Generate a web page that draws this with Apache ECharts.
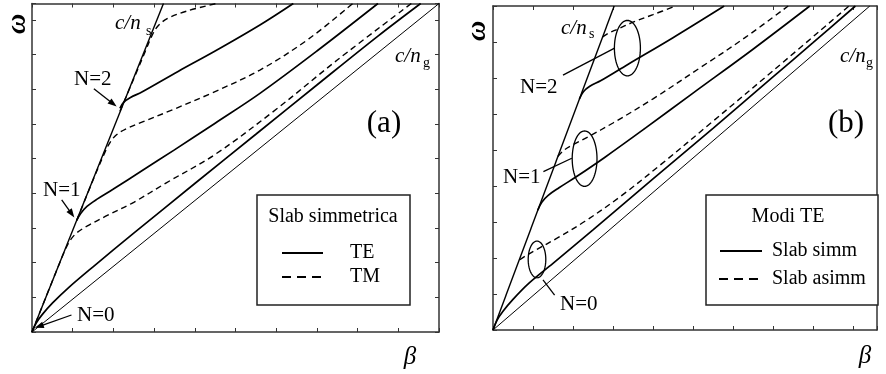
<!DOCTYPE html>
<html><head><meta charset="utf-8">
<script src="https://cdn.jsdelivr.net/npm/echarts@6/dist/echarts.min.js"></script>
<style>html,body{margin:0;padding:0;background:#fff}#c{width:886px;height:374px}</style>
</head><body><div id="c"></div>
<script>
// ---------- Panel (a): symmetric slab, TE (solid) vs TM (dashed) ----------
const aLightS = [[0,0],[3.23,9.47]];
const aLightG = [[0,0],[10,9.47]];
const aTE0 = [[0,0],[0.1,0.25],[0.25,0.5],[0.5,0.83],[0.9,1.28],[1.5,1.88],[2.5,2.85],[4,4.28],[5.5,5.7],[7,7.12],[8.5,8.53],[9.55,9.47]];
const aTE1 = [[1.1,3.22],[1.2,3.42],[1.35,3.62],[1.6,3.83],[2,4.12],[2.7,4.65],[3.5,5.25],[4.5,6.02],[5.6,6.88],[7,8.1],[8.5,9.47]];
const aTE2 = [[2.16,6.45],[2.25,6.62],[2.42,6.76],[2.7,6.92],[3.6,7.52],[4.5,8.1],[5.6,8.85],[6.42,9.47]];
const aTM0 = [[0,0],[0.6,1.76],[0.82,2.38],[0.95,2.66],[1.1,2.86],[1.35,3.05],[1.8,3.33],[2.5,3.74],[3.3,4.3],[4.5,5.12],[6,6.42],[7.5,7.84],[9.32,9.47]];
const aTM1 = [[1.1,3.22],[1.5,4.38],[1.78,5.15],[1.92,5.47],[2.07,5.68],[2.3,5.85],[2.7,6.05],[3.4,6.38],[4.4,6.88],[5.6,7.55],[6.8,8.45],[7.88,9.47]];
const aTM2 = [[2.16,6.36],[2.5,7.3],[2.78,8.08],[2.95,8.55],[3.1,8.83],[3.35,9.05],[3.8,9.25],[4.53,9.47]];
// arrows: [x1,y1,x2,y2,head]
const aArrows = [[1.52,7.01,2.08,6.5,1],[0.73,3.81,1.04,3.3,1],[0.97,0.49,0.07,0.12,1]];

// ---------- Panel (b): TE modes, symmetric (solid) vs asymmetric (dashed) ----------
const bLightS = [[0,0],[3.03,9]];
const bLightG = [[0,0],[9.42,9]];
const bSym0 = [[0,0],[0.1,0.27],[0.25,0.52],[0.5,0.85],[0.9,1.3],[1.5,1.85],[2.5,2.78],[4,4.2],[5.5,5.6],[7,7.03],[8,7.98],[9.06,9]];
const bSym1 = [[1.12,3.33],[1.22,3.55],[1.38,3.74],[1.65,3.95],[2.1,4.27],[2.8,4.8],[3.8,5.6],[5,6.58],[6.5,7.8],[7.92,9]];
const bSym2 = [[2.16,6.42],[2.26,6.62],[2.42,6.77],[2.7,6.93],[3.36,7.37],[4.5,8.12],[5.78,9]];
const bAsym0 = [[0.67,1.95],[0.8,2.05],[1.1,2.24],[1.6,2.55],[2.3,3.02],[3.2,3.72],[4.2,4.6],[5.5,5.8],[7,7.2],[8.9,9]];
const bAsym1 = [[1.62,4.82],[1.78,5.0],[2.0,5.15],[2.4,5.38],[3.0,5.75],[4,6.42],[5.2,7.3],[6.3,8.12],[7.38,9]];
const bAsym2 = [[2.74,8.14],[2.88,8.24],[3.1,8.35],[3.5,8.55],[4.0,8.76],[4.57,9]];
// ellipses: [cx,cy,rx,ry]
const bEllipses = [[3.36,7.83,0.325,0.77],[2.29,4.76,0.31,0.77],[1.10,1.96,0.22,0.51]];
// leader lines
const bLeaders = [[1.75,7.08,3.04,7.83,0],[1.26,4.40,1.97,4.77,0],[1.25,1.39,1.54,0.97,0]];

const SERIF = '"Liberation Serif","DejaVu Serif",serif';
const chart = echarts.init(document.getElementById('c'), null, {renderer:'canvas'});

function ax(gi, max, pos, ticks) {
  return {
    type:'value', gridIndex:gi, min:0, max:max, interval:1, position:pos,
    axisLabel:{show:false}, splitLine:{show:false},
    axisLine:{show:true, onZero:false, lineStyle:{color:'#333', width:1.5}},
    axisTick:{show:ticks, inside:true, length:4, lineStyle:{color:'#333', width:1}}
  };
}
function ln(data, xi, width, dashed, smooth) {
  return {
    type:'line', xAxisIndex:xi, yAxisIndex:xi, data:data, symbol:'none',
    smooth: smooth ? 0.35 : false, silent:true, z:3,
    lineStyle:{color:'#000', width:width, type: dashed ? [6,4] : 'solid'}
  };
}
function segRender(params, api) {
  const p1 = api.coord([api.value(0), api.value(1)]);
  const p2 = api.coord([api.value(2), api.value(3)]);
  const head = api.value(4);
  const ch = [];
  let ex = p2[0], ey = p2[1];
  if (head) {
    const dx = p2[0]-p1[0], dy = p2[1]-p1[1], L = Math.hypot(dx,dy), ux = dx/L, uy = dy/L;
    const hl = 9, hw = 3.3;
    const bx = p2[0]-ux*hl, by = p2[1]-uy*hl;
    ex = bx + ux*2; ey = by + uy*2;
    ch.push({type:'polygon', shape:{points:[[p2[0],p2[1]],[bx-uy*hw,by+ux*hw],[bx+uy*hw,by-ux*hw]]}, style:{fill:'#000'}});
  }
  ch.push({type:'line', shape:{x1:p1[0],y1:p1[1],x2:ex,y2:ey}, style:{stroke:'#000', lineWidth:1.3}});
  return {type:'group', children:ch};
}
function ellRender(params, api) {
  const c = api.coord([api.value(0), api.value(1)]);
  const s = api.size([api.value(2), api.value(3)]);
  const pts = [];
  for (let i = 0; i < 72; i++) { const t = i/72*Math.PI*2; pts.push([c[0]+s[0]*Math.cos(t), c[1]+s[1]*Math.sin(t)]); }
  return {type:'polygon', shape:{points:pts}, style:{fill:'none', stroke:'#000', lineWidth:1.3}};
}

function txt(x, y, text, size, opts) {
  opts = opts || {};
  return {type:'text', x:x, y:y, rotation:opts.rot || 0, z:10, silent:true,
    style:{text:text, fill:'#000', font:(opts.style||'')+' '+size+'px '+SERIF,
      textAlign:opts.align||'left', textVerticalAlign:'middle'}};
}
function legendBox(x, y, w, h, title, tcx, items) {
  const g = [{type:'rect', shape:{x:x, y:y, width:w, height:h}, z:9,
    style:{fill:'#fff', stroke:'#222', lineWidth:1.5}}];
  g.push(txt(tcx, y+22, title, 20, {align:'center'}));
  items.forEach(it => {
    g.push({type:'line', z:10, shape:{x1:it[0], y1:it[2], x2:it[1], y2:it[2]},
      style:{stroke:'#000', lineWidth:1.8, lineDash: it[4] ? [9,6] : null}});
    g.push(txt(it[3], it[2], it[5], 20));
  });
  return g;
}

const graphics = [].concat(
  // panel a texts
  txt(18, 24, 'ω', 28, {style:'italic bold', align:'center', rot:Math.PI/2}),
  txt(410, 357, 'β', 25, {style:'italic', align:'center'}),
  txt(115, 23, 'c/n', 21, {style:'italic'}),
  txt(146, 31, 's', 14),
  txt(395, 56, 'c/n', 21, {style:'italic'}),
  txt(423, 63, 'g', 14),
  txt(384, 124, '(a)', 31, {align:'center'}),
  txt(74, 79, 'N=2', 21),
  txt(43, 190, 'N=1', 21),
  txt(77, 315, 'N=0', 21),
  legendBox(257, 195, 153, 110, 'Slab simmetrica', 333,
    [[282,323,253,350,false,'TE'],[282,321,277,350,true,'TM']]),
  // panel b texts
  txt(478, 31, 'ω', 28, {style:'italic bold', align:'center', rot:Math.PI/2}),
  txt(865, 356, 'β', 25, {style:'italic', align:'center'}),
  txt(561, 28, 'c/n', 21, {style:'italic'}),
  txt(589, 34, 's', 14),
  txt(840, 56, 'c/n', 21, {style:'italic'}),
  txt(866, 63, 'g', 14),
  txt(846, 124, '(b)', 31, {align:'center'}),
  txt(520, 87, 'N=2', 21),
  txt(503, 177, 'N=1', 21),
  txt(560, 304, 'N=0', 21),
  legendBox(706, 195, 172, 110, 'Modi TE', 788,
    [[720,762,251,772,false,'Slab simm'],[719,758,279,772,true,'Slab asimm']])
);

chart.setOption({
  animation:false,
  backgroundColor:'#fff',
  grid:[
    {left:32, top:3.5, right:447, bottom:42},
    {left:493, top:6, right:9, bottom:44}
  ],
  xAxis:[ax(0,10,'bottom',true), ax(0,10,'top',true), ax(1,9.6,'bottom',true), ax(1,9.6,'top',true)],
  yAxis:[ax(0,9.47,'left',true), ax(0,9.47,'right',true), ax(1,9,'left',true), ax(1,9,'right',false)],
  series:[
    ln(aLightS,0,1.4,false,false), ln(aLightG,0,1,false,false),
    ln(aTE0,0,1.7,false,true), ln(aTE1,0,1.7,false,true), ln(aTE2,0,1.7,false,true),
    ln(aTM0,0,1.4,true,true), ln(aTM1,0,1.4,true,true), ln(aTM2,0,1.4,true,true),
    {type:'custom', xAxisIndex:0, yAxisIndex:0, data:aArrows, renderItem:segRender, encode:{x:[0,2], y:[1,3]}, silent:true, z:5},
    ln(bLightS,2,1.4,false,false), ln(bLightG,2,1,false,false),
    ln(bSym0,2,1.7,false,true), ln(bSym1,2,1.7,false,true), ln(bSym2,2,1.7,false,true),
    ln(bAsym0,2,1.4,true,true), ln(bAsym1,2,1.4,true,true), ln(bAsym2,2,1.4,true,true),
    {type:'custom', xAxisIndex:2, yAxisIndex:2, data:bEllipses, renderItem:ellRender, encode:{x:0, y:1}, silent:true, z:5},
    {type:'custom', xAxisIndex:2, yAxisIndex:2, data:bLeaders, renderItem:segRender, encode:{x:[0,2], y:[1,3]}, silent:true, z:5}
  ],
  graphic: graphics
});
</script></body></html>
